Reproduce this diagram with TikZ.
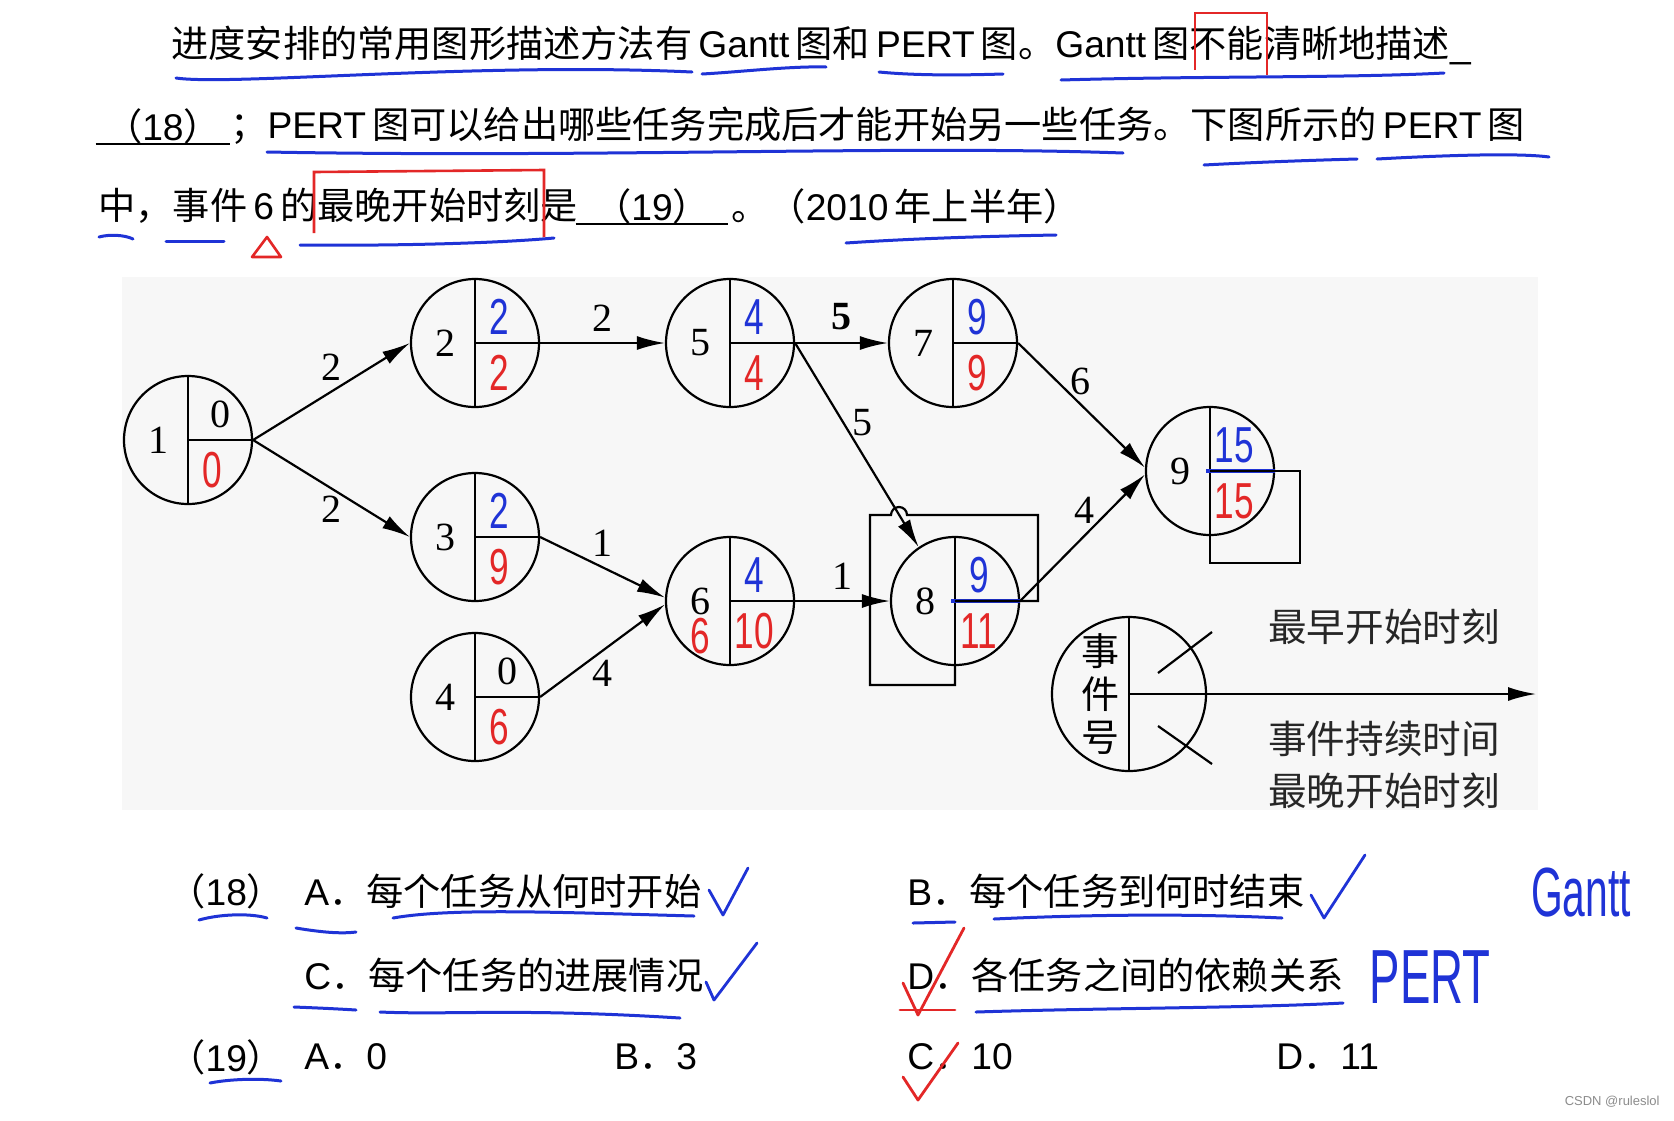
\documentclass[tikz,border=0pt]{standalone}
\usepackage{fontspec}
\setmainfont{Liberation Sans}
\newfontfamily\zh{Noto Sans CJK SC}
\newfontfamily\tms{Liberation Serif}
\usetikzlibrary{positioning, arrows.meta}
\definecolor{pen}{HTML}{1F33D6}
\definecolor{ink}{HTML}{E32727}
\definecolor{paper}{HTML}{F7F7F7}
\definecolor{wmgray}{HTML}{8C8C8C}
\newcommand\hw[1]{\scalebox{0.8}[1.15]{#1}}

\begin{document}
\begin{tikzpicture}[x=0.5pt, y=-0.5pt,
    evt/.style={circle, draw, line width=1.1pt, minimum size=64pt, inner sep=0pt},
    num/.style={font=\tms\fontsize{20}{20}\selectfont, inner sep=0pt},
    hand/.style={font=\fontsize{22}{22}\selectfont, inner sep=0pt},
    act/.style={line width=1.1pt, -{Latex[length=14pt, width=7pt]}},
    qtext/.style={font=\fontsize{18.6}{22}\selectfont, inner sep=0pt, anchor=west},
    wave/.style={pen, line width=1.5pt, line cap=round},
    tick/.style={line width=1.4pt, line cap=round, line join=round}]
    \fill[white] (0,0) rectangle (1674,1120);
    \useasboundingbox (0,0) rectangle (1674,1120);
    \fill[paper] (122,277) rectangle (1538,810);

    \node[qtext] (q1) at (171,45) {{\zh 进度安排的常用图形描述方法有}\,Gantt\,{\zh 图和}\,PERT\,{\zh 图。}Gantt\,{\zh 图不能清晰地描述}\_};
    \node[qtext, anchor=center, minimum width=67pt] (q18) at (163,126) {{\zh （}18{\zh ）}};
    \node[qtext] (q2) at (230,126) {{\zh ；}PERT\,{\zh 图可以给出哪些任务完成后才能开始另一些任务。下图所示的}\,PERT\,{\zh 图}};
    \node[qtext] (q3) at (98,206) {{\zh 中，事件}\,6\,{\zh 的最晚开始时刻是}};
    \node[qtext, anchor=center, minimum width=76pt] (q19) at (652,206) {{\zh （}19{\zh ）}};
    \node[qtext] (q3b) at (731,206) {{\zh 。（}2010\,{\zh 年上半年）}};
    \draw[line width=1.1pt] ([yshift=-2pt]q18.base west) -- ([yshift=-2pt]q18.base east);
    \draw[line width=1.1pt] ([yshift=-2pt]q19.base west) -- ([yshift=-2pt]q19.base east);

    \foreach \n/\x/\y in {1/188/440, 2/475/343, 3/475/537, 4/475/697, 5/730/343, 6/730/601, 7/953/343, 8/955/601, 9/1210/471} {
        \node[evt] (e\n) at (\x,\y) {};
        \draw[line width=1.1pt] (e\n.north) -- (e\n.south) (e\n.center) -- (e\n.east);
        \node[num] at ([xshift=-15pt]e\n.center) {\n};
    }
    \node[num] at ([xshift=16pt, yshift=13pt]e1.center) {0};
    \node[num] at ([xshift=16pt, yshift=13pt]e4.center) {0};
    \foreach \n/\v in {2/2, 3/2, 5/4, 6/4, 7/9, 8/9, 9/15}
        \node[hand, text=pen] at ([xshift=12pt, yshift=13pt]e\n.center) {\hw{\v}};
    \foreach \n/\v in {1/0, 2/2, 3/9, 4/6, 5/4, 6/10, 7/9, 8/11, 9/15}
        \node[hand, text=ink] at ([xshift=12pt, yshift=-15pt]e\n.center) {\hw{\v}};
    \node[hand, text=ink] at ([xshift=-15pt, yshift=-17.5pt]e6.center) {\hw{6}};
    \draw[pen, line width=1.6pt] ([xshift=-2pt]e8.center) -- (e8.east);
    \draw[pen, line width=1.6pt] ([xshift=-2pt]e9.center) -- (e9.east);

    \draw[line width=1.1pt] (e8.center) -- (1038,601) -- (1038,515) -- (907,515)
        arc[start angle=0, end angle=180, radius=4pt] -- (870,515) -- (870,685) -- (955,685) -- (e8.south);
    \draw[line width=1.1pt] (e9.center) -- (1300,471) -- (1300,563) -- (1210,563) -- (e9.south);

    \draw[act] (e1.east) -- (e2.west) node[num, midway, above=5pt] {2};
    \draw[act] (e1.east) -- (e3.west) node[num, midway, below=3pt] {2};
    \draw[act] (e2.east) -- (e5.west) node[num, midway, above=5pt] {2};
    \draw[act] (e3.east) -- (e6.177) node[num, midway, above=5pt] {1};
    \draw[act] (e4.east) -- (e6.183) node[num, midway, below=4pt] {4};
    \draw[act] (e5.east) -- (e7.west) node[num, midway, above=6pt] {\bfseries 5};
    \draw[act] (e5.east) -- (e8.124) node[num, pos=0.39, right=4pt] {5};
    \draw[act] (e6.east) -- (e8.west) node[num, midway, above=5pt] {1};
    \draw[act] (e7.east) -- (e9.177) node[num, pos=0.31, right=6pt] {6};
    \draw[act] (e8.east) -- (e9.183) node[num, pos=0.72, left=7pt] {4};

    \node[evt, minimum size=77pt] (lg) at (1129,694) {};
    \coordinate (lgend) at (1536,694);
    \draw[line width=1.1pt] (lg.north) -- (lg.south);
    \draw[act] (lg.center) -- (lgend);
    \draw[line width=1.1pt] (1158,673) -- (1212,632) (1158,726) -- (1212,764);
    \node[font=\zh\fontsize{19}{21.5}\selectfont, align=center, inner sep=0pt] (lgn) at ([xshift=-14.5pt]lg.center) {事\\件\\号};
    \node[font=\zh\fontsize{19.3}{20}\selectfont, text=black!85, inner sep=0pt] (lgA) at (1384,627) {最早开始时刻};
    \node[font=\zh\fontsize{19.3}{20}\selectfont, text=black!85, inner sep=0pt] (lgB) at (1384,739) {事件持续时间};
    \node[font=\zh\fontsize{19.3}{20}\selectfont, text=black!85, inner sep=0pt] (lgC) at (1384,791) {最晚开始时刻};

    \node[qtext] (o18) at (168,891) {{\zh （}18{\zh ）}};
    \node[qtext] (oA) at (304,891) {A{\zh ．每个任务从何时开始}};
    \node[qtext] (oB) at (907,891) {B{\zh ．每个任务到何时结束}};
    \node[qtext] (oC) at (304,975) {C{\zh ．每个任务的进展情况}};
    \node[qtext] (oD) at (907,975) {D{\zh ．各任务之间的依赖关系}};
    \node[qtext] (o19) at (168,1057) {{\zh （}19{\zh ）}};
    \node[qtext] (pA) at (304,1057) {A{\zh ．}0};
    \node[qtext] (pB) at (614,1057) {B{\zh ．}3};
    \node[qtext] (pC) at (907,1057) {C{\zh ．}10};
    \node[qtext] (pD) at (1276,1057) {D{\zh ．}11};
    \node[font=\fontsize{24}{24}\selectfont, text=pen, inner sep=0pt] (hg) at (1581,893) {\scalebox{0.85}[1.45]{Gantt}};
    \node[font=\fontsize{24}{24}\selectfont, text=pen, inner sep=0pt] (hp) at (1430,977) {\scalebox{0.95}[1.6]{PERT}};
    \node[font=\fontsize{6.5}{7}\selectfont, text=wmgray, anchor=east, inner sep=0pt] (wm) at (1660,1102) {CSDN @ruleslol};

    \draw[wave] (176,78) .. controls (230,86) and (480,62) .. (692,72);
    \draw[wave] (702,74) .. controls (740,72) and (790,66) .. (826,67);
    \draw[wave] (879,72) .. controls (920,76) and (970,75) .. (1003,74);
    \draw[wave] (1061,80) .. controls (1200,76) and (1350,78) .. (1444,73);
    \draw[wave] (267,152) .. controls (600,158) and (900,145) .. (1123,153);
    \draw[wave] (1204,165) .. controls (1260,162) and (1320,160) .. (1357,159);
    \draw[wave] (1377,159) .. controls (1450,155) and (1520,153) .. (1549,157);
    \draw[wave] (99,237) .. controls (110,234) and (125,235) .. (133,239);
    \draw[wave] (166,241) -- (224,241);
    \draw[wave] (300,245) .. controls (400,246) and (500,243) .. (554,238);
    \draw[wave] (846,243) .. controls (920,238) and (1000,236) .. (1056,235);
    \draw[wave] (199,920) .. controls (220,914) and (250,913) .. (267,918);
    \draw[wave] (296,928) .. controls (320,932) and (340,934) .. (356,932);
    \draw[wave] (393,918) .. controls (450,908) and (550,912) .. (694,916);
    \draw[wave] (913,923) -- (955,922);
    \draw[wave] (994,919) .. controls (1100,914) and (1200,914) .. (1282,918);
    \draw[wave] (294,1007) .. controls (320,1008) and (340,1009) .. (356,1010);
    \draw[wave] (380,1012) .. controls (450,1015) and (520,1008) .. (680,1018);
    \draw[wave] (976,1012) .. controls (1100,1008) and (1250,1008) .. (1343,1003);
    \draw[wave] (210,1083) .. controls (230,1079) and (260,1078) .. (281,1081);

    \draw[ink, line width=1.3pt] (1195,70) -- (1195,13) -- (1267,13) -- (1267,75);
    \draw[ink, line width=1.3pt] (314,233) -- (314,172) -- (544,170) -- (544,237);
    \draw[ink, line width=1.3pt, line join=round] (267,237) -- (252,257) -- (281,257) -- cycle;

    \draw[tick, pen] (709,890) -- (723,915) -- (748,868);
    \draw[tick, pen] (1311,895) -- (1324,918) -- (1365,855);
    \draw[tick, pen] (706,982) -- (714,1000) -- (757,943);
    \draw[tick, ink] (903,983) -- (918,1015) -- (964,928);
    \draw[tick, ink] (900,1010) -- (955,1010);
    \draw[tick, ink] (903,1077) -- (918,1100) -- (958,1043);
\end{tikzpicture}
\end{document}
